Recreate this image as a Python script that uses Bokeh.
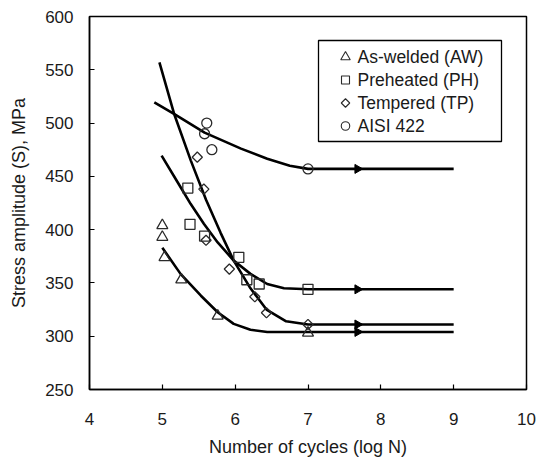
import math
from bokeh.plotting import figure
from bokeh.models import Range1d, FixedTicker
from bokeh.core.properties import value
from bokeh.embed import file_html
from bokeh.resources import INLINE

# ---- data ----
x_ticks = [4, 5, 6, 7, 8, 9, 10]
y_ticks = [250, 300, 350, 400, 450, 500, 550, 600]

# measured points
aw_x = [5.0, 5.0, 5.03, 5.26, 5.76, 7.0]
aw_y = [404, 393, 374, 353, 319, 303]
ph_x = [5.35, 5.38, 5.58, 6.05, 6.16, 6.33, 7.0]
ph_y = [439, 405, 394, 374, 353, 349, 344]
tp_x = [5.48, 5.57, 5.6, 5.92, 6.27, 6.43, 7.0]
tp_y = [468, 438, 390, 363, 337, 322, 311]
ai_x = [5.61, 5.58, 5.68, 7.0]
ai_y = [500, 490, 475, 457]

# fitted curves
aw_cx = [5.0, 5.25, 5.53, 5.76, 5.98, 6.21, 6.44, 6.6, 7.0, 9.0]
aw_cy = [383, 358.5, 338, 322.5, 311.6, 306, 304, 304, 304, 304]
ph_cx = [4.99, 5.21, 5.39, 5.57, 5.76, 5.98, 6.21, 6.44, 6.67, 7.0, 9.0]
ph_cy = [469.5, 444.5, 424, 405.5, 388, 371, 358.5, 349, 345, 344, 344]
tp_cx = [4.96, 5.16, 5.39, 5.6, 5.8, 5.98, 6.2, 6.43, 6.7, 7.0, 9.0]
tp_cy = [557, 509, 465, 428, 397, 371, 346, 325, 314, 311, 311]
ai_cx = [4.89, 5.16, 5.58, 6.08, 6.44, 6.75, 7.0, 9.0]
ai_cy = [519.5, 508.6, 491, 476, 466.5, 460, 457, 457]

# arrows on the run-out lines
arrow_x = [7.68, 7.68, 7.68, 7.68]
arrow_y = [304, 344, 311, 457]

labels = ["As-welded (AW)", "Preheated (PH)", "Tempered (TP)", "AISI 422"]

# ---- layout (figure pixels) ----
W, H = 539, 461
FL, FR, FT, FB = 89, 526, 16, 389          # frame edges
X0, X1, Y0, Y1 = 4, 10, 250, 600


def dx(px):
    return X0 + (px - FL) / (FR - FL) * (X1 - X0)


def dy(py):
    return Y0 + (FB - py) / (FB - FT) * (Y1 - Y0)


FONT = "Liberation Sans"
TXT = "#1a1a1a"

p = figure(width=W, height=H, output_backend="svg", toolbar_location=None,
           x_range=Range1d(X0, X1), y_range=Range1d(Y0, Y1),
           min_border_left=FL, min_border_right=W - FR, min_border_top=FT,
           min_border_bottom=H - FB, background_fill_color="white",
           border_fill_color="white")

p.xgrid.visible = False
p.ygrid.visible = False
p.outline_line_color = "black"
p.outline_line_width = 1.5

for ax in (p.xaxis[0], p.yaxis[0]):
    ax.axis_line_color = "black"
    ax.axis_line_width = 1.5
    ax.major_tick_in = 5
    ax.major_tick_out = 0
    ax.major_tick_line_color = "black"
    ax.major_tick_line_width = 1.2
    ax.minor_tick_line_color = None
    ax.major_label_text_font = FONT
    ax.major_label_text_font_size = "17px"
    ax.major_label_text_color = TXT
    ax.axis_label_text_font = FONT
    ax.axis_label_text_font_size = "18px"
    ax.axis_label_text_font_style = "normal"
    ax.axis_label_text_color = TXT

p.xaxis.ticker = FixedTicker(ticks=x_ticks)
p.yaxis.ticker = FixedTicker(ticks=y_ticks)
p.xaxis.axis_label = "Number of cycles (log N)"
p.yaxis.axis_label = "Stress amplitude (S), MPa"
p.xaxis.major_label_standoff = 23
p.yaxis.major_label_standoff = 16
p.xaxis.axis_label_standoff = 9
p.yaxis.axis_label_standoff = 13

LW = 2.6
for cx, cy in ((aw_cx, aw_cy), (ph_cx, ph_cy), (tp_cx, tp_cy), (ai_cx, ai_cy)):
    p.line(cx, cy, line_color="black", line_width=LW)

p.scatter(arrow_x, arrow_y, marker="triangle", angle=-math.pi / 2, size=9,
          fill_color="black", line_color="black")

MC = "#2a2a2a"
MW = 1.3
styles = [dict(marker="triangle", size=11, angle=0.0),
          dict(marker="square", size=10, angle=0.0),
          dict(marker="square", size=7.2, angle=math.pi / 4),
          dict(marker="circle", size=10, angle=0.0)]
for (xs, ys), st in zip(((aw_x, aw_y), (ph_x, ph_y), (tp_x, tp_y), (ai_x, ai_y)), styles):
    p.scatter(xs, ys, marker=st["marker"], size=st["size"], angle=st["angle"],
              fill_alpha=0, line_color=MC, line_width=MW)

# ---- legend (drawn as a framed box) ----
LG_L, LG_R, LG_T, LG_B = 318, 501, 40, 141
LG_MX, LG_TX = 345, 357
LG_ROWS = [56.5, 79.5, 102.5, 125.5]
leg_sizes = [9.5, 8, 6, 8.5]

p.quad(left=[dx(LG_L)], right=[dx(LG_R)], top=[dy(LG_T)], bottom=[dy(LG_B)],
       fill_color="white", line_color="black", line_width=1.3)
for i, st in enumerate(styles):
    p.scatter([dx(LG_MX)], [dy(LG_ROWS[i])], marker=st["marker"],
              size=leg_sizes[i], angle=st["angle"], fill_alpha=0,
              line_color=MC, line_width=1.1)
p.text(x=[dx(LG_TX)] * 4, y=[dy(r) for r in LG_ROWS], text=labels,
       text_font=value(FONT), text_font_size=value("17.5px"),
       text_color=TXT, text_baseline="middle", text_align="left")

open("out.html", "w").write(file_html(p, INLINE))
